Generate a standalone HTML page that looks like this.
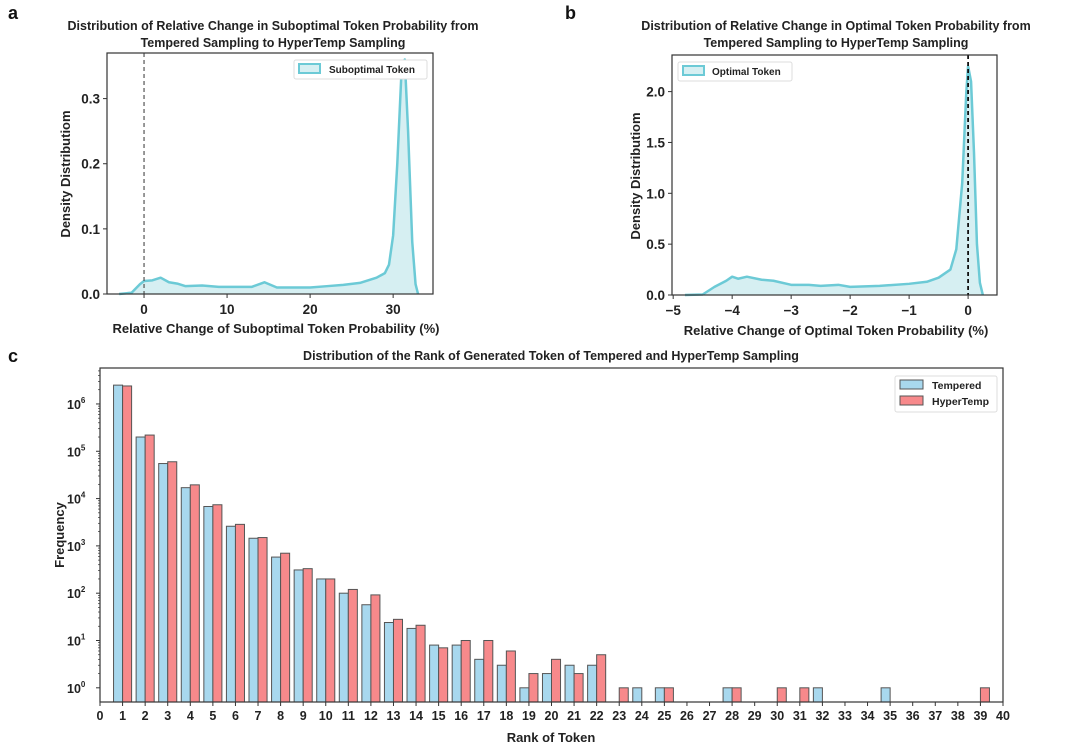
<!DOCTYPE html>
<html><head><meta charset="utf-8"><style>
html,body{margin:0;padding:0;background:#fff;}
svg{display:block;font-family:"Liberation Sans",Arial,sans-serif;font-weight:bold;}
</style></head><body>
<svg id="fig" width="1080" height="749" viewBox="0 0 1080 749">
<g id="pa"></g>
<g id="pb"></g>
<g id="pc"></g>
</svg>
<script>
// Panel a data
const aX = [-3,-1.5,-0.5,0,1,2,3,4,5,7,9,11,13,14.5,16,18,20,22,24,26,28,29,29.5,30,30.5,31,31.4,31.8,32.3,32.7,33];
const aY = [0,0.002,0.015,0.02,0.021,0.025,0.018,0.016,0.012,0.013,0.011,0.011,0.011,0.018,0.01,0.01,0.01,0.012,0.014,0.017,0.025,0.032,0.045,0.09,0.2,0.34,0.36,0.25,0.08,0.015,0];
const aXTicks = [0,10,20,30];
const aYTicks = [0,0.1,0.2,0.3];
// Panel b data
const bX = [-4.8,-4.5,-4.3,-4.1,-4.0,-3.9,-3.75,-3.5,-3.3,-3,-2.7,-2.5,-2.2,-2,-1.5,-1,-0.7,-0.5,-0.3,-0.2,-0.1,-0.03,0,0.05,0.1,0.15,0.2,0.25];
const bY = [0,0.005,0.08,0.14,0.18,0.16,0.18,0.15,0.14,0.1,0.1,0.09,0.1,0.08,0.09,0.11,0.13,0.17,0.25,0.45,1.1,2.0,2.25,2.1,1.4,0.5,0.12,0];
const bXTicks = [-5,-4,-3,-2,-1,0];
const bXLabels = ["\u22125","\u22124","\u22123","\u22122","\u22121","0"];
const bYTicks = [0,0.5,1.0,1.5,2.0];
// Panel c data
const ranks = [1,2,3,4,5,6,7,8,9,10,11,12,13,14,15,16,17,18,19,20,21,22,23,24,25,28,30,31,32,35,39];
const tempered = [2.5e6,2e5,5.5e4,1.7e4,6.8e3,2.6e3,1450,580,310,200,100,57,24,18,8,8,4,3,1,2,3,3,0,1,1,1,0,0,1,1,0];
const hypertemp = [2.4e6,2.2e5,6e4,1.95e4,7.4e3,2.85e3,1500,700,330,200,120,92,28,21,7,10,10,6,2,4,2,5,1,0,1,1,1,1,0,0,1];
const cYTicks = [0,1,2,3,4,5,6];

const NS="http://www.w3.org/2000/svg";
function mk(parent,tag,attrs,text){const e=document.createElementNS(NS,tag);for(const k in attrs)e.setAttribute(k,attrs[k]);if(text!==undefined)e.textContent=text;parent.appendChild(e);return e;}

function kde(g,o){
  const sx=v=>o.x0+(v-o.xmin)/(o.xmax-o.xmin)*(o.x1-o.x0);
  const sy=v=>o.y1-(v-o.ymin)/(o.ymax-o.ymin)*(o.y1-o.y0);
  let d="M"+sx(o.xs[0])+","+sy(0);
  let ld="";
  o.xs.forEach((x,i)=>{d+=" L"+sx(x)+","+sy(o.ys[i]);ld+=(i?" L":"M")+sx(x)+","+sy(o.ys[i]);});
  d+=" L"+sx(o.xs[o.xs.length-1])+","+sy(0)+"Z";
  let e=mk(g,"path",{d:d,fill:"#d6eff2",stroke:"none"});
  
  
  e=mk(g,"path",{d:ld,fill:"none",stroke:"#6ccad6","stroke-width":2.5,"stroke-linejoin":"round"});
  
  
  e=mk(g,"line",{x1:sx(0),x2:sx(0),y1:o.y0,y2:o.y1,stroke:o.dashColor,"stroke-width":o.dashW,"stroke-dasharray":"4,3"});
  
  
  e=mk(g,"rect",{x:o.x0,y:o.y0,width:o.x1-o.x0,height:o.y1-o.y0,fill:"none",stroke:"#333","stroke-width":1.2});
  
  
  o.xt.forEach((t,i)=>{
    mk(g,"line",{x1:sx(t),x2:sx(t),y1:o.y1,y2:o.y1+4,stroke:"#333"});
    e=mk(g,"text",{x:sx(t),y:o.y1+20,"text-anchor":"middle","font-size":13.5,fill:"#222"},o.xl[i]);
    
    
  });
  o.yt.forEach(t=>{
    mk(g,"line",{x1:o.x0-4,x2:o.x0,y1:sy(t),y2:sy(t),stroke:"#333"});
    e=mk(g,"text",{x:o.x0-7,y:sy(t)+5,"text-anchor":"end","font-size":13.5,fill:"#222"},t.toFixed(1));
    
    
  });
}

// Panel a
const pa=document.getElementById("pa");
kde(pa,{x0:107,x1:433,y0:53,y1:294,xmin:-4.46,xmax:34.8,ymin:0,ymax:0.37,xs:aX,ys:aY,xt:aXTicks,xl:aXTicks.map(String),yt:aYTicks,dashColor:"#555",dashW:1.2});
mk(pa,"text",{x:8,y:19,"font-size":18,fill:"#111",},"a");
mk(pa,"text",{x:273,y:30,"text-anchor":"middle","font-size":12.5,fill:"#222",},"Distribution of Relative Change in Suboptimal Token Probability from");
mk(pa,"text",{x:273,y:47,"text-anchor":"middle","font-size":12.5,fill:"#222",},"Tempered Sampling to HyperTemp Sampling");
mk(pa,"text",{x:276,y:333,"text-anchor":"middle","font-size":13,fill:"#222",},"Relative Change of Suboptimal Token Probability (%)");
mk(pa,"text",{x:70,y:174,"text-anchor":"middle","font-size":13,fill:"#222",transform:"rotate(-90 70 174)",},"Density Distributiom");
mk(pa,"rect",{x:294,y:60,width:133,height:19,rx:2,fill:"#fff",stroke:"#ddd",});
mk(pa,"rect",{x:299,y:64,width:21,height:9,fill:"#d6eff2",stroke:"#6ccad6","stroke-width":2,});
mk(pa,"text",{x:329,y:73,"font-size":10,fill:"#222",},"Suboptimal Token");

// Panel b
const pb=document.getElementById("pb");
kde(pb,{x0:672,x1:997,y0:55,y1:295,xmin:-5.02,xmax:0.49,ymin:0,ymax:2.36,xs:bX,ys:bY,xt:bXTicks,xl:bXLabels,yt:bYTicks,dashColor:"#111",dashW:1.8});
mk(pb,"text",{x:565,y:19,"font-size":18,fill:"#111",},"b");
mk(pb,"text",{x:836,y:30,"text-anchor":"middle","font-size":12.5,fill:"#222",},"Distribution of Relative Change in Optimal Token Probability from");
mk(pb,"text",{x:836,y:47,"text-anchor":"middle","font-size":12.5,fill:"#222",},"Tempered Sampling to HyperTemp Sampling");
mk(pb,"text",{x:836,y:335,"text-anchor":"middle","font-size":13,fill:"#222",},"Relative Change of Optimal Token Probability (%)");
mk(pb,"text",{x:640,y:176,"text-anchor":"middle","font-size":13,fill:"#222",transform:"rotate(-90 640 176)",},"Density Distributiom");
mk(pb,"rect",{x:678,y:62,width:114,height:19,rx:2,fill:"#fff",stroke:"#ddd",});
mk(pb,"rect",{x:683,y:66,width:21,height:9,fill:"#d6eff2",stroke:"#6ccad6","stroke-width":2,});
mk(pb,"text",{x:712,y:75,"font-size":10,fill:"#222",},"Optimal Token");

// Panel c
const pc=document.getElementById("pc");
const cx0=100,cx1=1003,cy0=368,cy1=702,lmin=-0.3,lmax=6.76;
const sx=v=>cx0+v/40*(cx1-cx0);
const sy=v=>cy1-(Math.log10(v)-lmin)/(lmax-lmin)*(cy1-cy0);
mk(pc,"text",{x:8,y:362,"font-size":18,fill:"#111",},"c");
mk(pc,"text",{x:551,y:360,"text-anchor":"middle","font-size":12.5,fill:"#222",},"Distribution of the Rank of Generated Token of Tempered and HyperTemp Sampling");
ranks.forEach((r,i)=>{
  if(tempered[i]>0){
    const b=mk(pc,"rect",{x:sx(r-0.4),y:sy(tempered[i]),width:sx(0.4)-sx(0),height:cy1-sy(tempered[i]),fill:"#a8d8ee",stroke:"#555","stroke-width":1});
    
    
  }
  if(hypertemp[i]>0){
    const b=mk(pc,"rect",{x:sx(r),y:sy(hypertemp[i]),width:sx(0.4)-sx(0),height:cy1-sy(hypertemp[i]),fill:"#f7898b",stroke:"#555","stroke-width":1});
    
    
  }
});
let fr=mk(pc,"rect",{x:cx0,y:cy0,width:cx1-cx0,height:cy1-cy0,fill:"none",stroke:"#333","stroke-width":1.2});


for(let t=0;t<=40;t++){
  mk(pc,"line",{x1:sx(t),x2:sx(t),y1:cy1,y2:cy1+4,stroke:"#333"});
  const e=mk(pc,"text",{x:sx(t),y:cy1+18,"text-anchor":"middle","font-size":12.5,fill:"#222"},String(t));
  
  
}
cYTicks.forEach(p=>{
  const y=sy(Math.pow(10,p));
  mk(pc,"line",{x1:cx0-4,x2:cx0,y1:y,y2:y,stroke:"#333"});
  for(let m=2;m<10;m++){const ym=sy(m*Math.pow(10,p));if(ym>cy0)mk(pc,"line",{x1:cx0-2,x2:cx0,y1:ym,y2:ym,stroke:"#333","stroke-width":0.7});}
  const e=mk(pc,"text",{x:cx0-33,y:y+5,"font-size":12.5,fill:"#222"});
  
  
  mk(e,"tspan",{},"10");
  mk(e,"tspan",{"font-size":8,dy:-6},String(p));
});
mk(pc,"text",{x:551,y:742,"text-anchor":"middle","font-size":13,fill:"#222",},"Rank of Token");
mk(pc,"text",{x:64,y:535,"text-anchor":"middle","font-size":13,fill:"#222",transform:"rotate(-90 64 535)",},"Frequency");
mk(pc,"rect",{x:895,y:376,width:102,height:36,rx:2,fill:"#fff",stroke:"#ddd",});
mk(pc,"rect",{x:900,y:380,width:23,height:9,fill:"#a8d8ee",stroke:"#555",});
mk(pc,"text",{x:932,y:389,"font-size":10.5,fill:"#222",},"Tempered");
mk(pc,"rect",{x:900,y:396,width:23,height:9,fill:"#f7898b",stroke:"#555",});
mk(pc,"text",{x:932,y:405,"font-size":10.5,fill:"#222",},"HyperTemp");
</script>
</body></html>
